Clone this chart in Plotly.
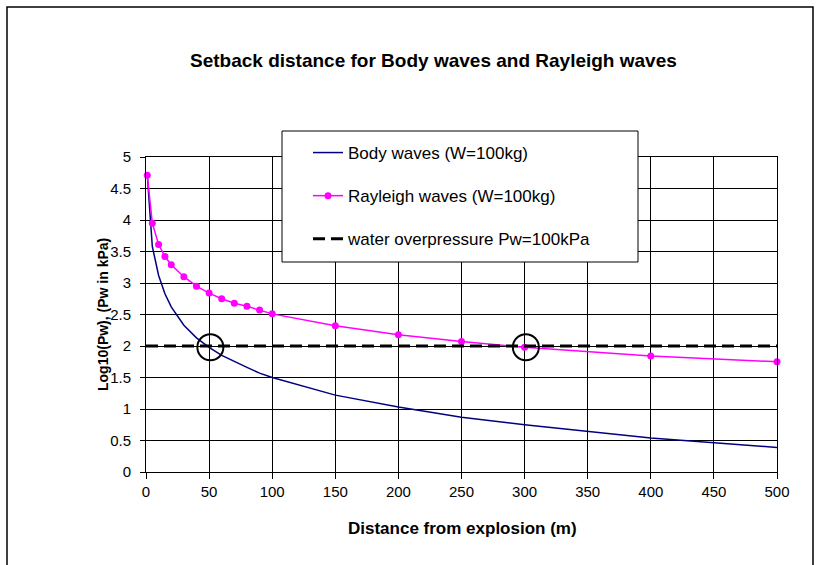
import plotly.graph_objects as go

distance_m = [1, 5, 10, 15, 20, 30, 40, 50, 60, 70, 80, 90, 100, 150, 200, 250, 300, 400, 500]
body_log_pw = [4.72, 3.58, 3.12, 2.83, 2.62, 2.33, 2.13, 1.98, 1.85, 1.75, 1.66, 1.57, 1.50,
               1.22, 1.03, 0.87, 0.75, 0.54, 0.39]
rayleigh_log_pw = [4.71, 3.95, 3.61, 3.42, 3.29, 3.10, 2.95, 2.84, 2.75, 2.68, 2.63, 2.57, 2.51,
                   2.32, 2.18, 2.07, 1.98, 1.84, 1.75]
water_x = [0, 500]
water_log_pw = [2, 2]
crossing_x = [51, 301]
crossing_y = [1.98, 1.98]

x_ticks = [0, 50, 100, 150, 200, 250, 300, 350, 400, 450, 500]
y_ticks = [0, 0.5, 1, 1.5, 2, 2.5, 3, 3.5, 4, 4.5, 5]

FONT = "Liberation Sans, Arial, sans-serif"

# pixel geometry of the plot area
L, R, T, B = 146, 777, 157, 472
W, H = 819, 565
PW, PH = R - L, B - T


def px(xp):
    return (xp - L) / PW


def py(yp):
    return (B - yp) / PH


fig = go.Figure()
fig.add_trace(go.Scatter(
    x=distance_m, y=body_log_pw, mode="lines", name="Body waves (W=100kg)",
    line=dict(color="#000080", width=1.5), legendgroup="a"))
fig.add_trace(go.Scatter(
    x=distance_m, y=rayleigh_log_pw, mode="lines+markers", name="Rayleigh waves (W=100kg)",
    line=dict(color="#FF00FF", width=1.5), marker=dict(color="#FF00FF", size=7),
    cliponaxis=False, legendgroup="b"))
fig.add_trace(go.Scatter(
    x=water_x, y=water_log_pw, mode="lines", name="water overpressure Pw=100kPa",
    line=dict(color="black", width=3, dash="12px,6px"), legendgroup="c"))
fig.add_trace(go.Scatter(
    x=crossing_x, y=crossing_y, mode="markers", showlegend=False, cliponaxis=False,
    marker=dict(symbol="circle-open", size=26, color="black", line=dict(width=2, color="black"))))

# outer chart frame
fig.add_shape(type="rect", xref="paper", yref="paper",
              x0=px(7), x1=px(813), y0=py(600), y1=py(7),
              line=dict(color="black", width=1.5), fillcolor="rgba(0,0,0,0)", layer="below")
# legend box
fig.add_shape(type="rect", xref="paper", yref="paper",
              x0=px(282), x1=px(638), y0=py(262), y1=py(131),
              line=dict(color="black", width=1), fillcolor="white", layer="above")

fig.add_annotation(text="<b>Setback distance for Body waves and Rayleigh waves</b>",
                   xref="paper", yref="paper", x=px(433), y=py(61),
                   showarrow=False, font=dict(family=FONT, size=19, color="black"),
                   xanchor="center", yanchor="middle")
fig.add_annotation(text="<b>Log10(Pw), (Pw in kPa)</b>", textangle=-90,
                   xref="paper", yref="paper", x=px(103), y=py(315),
                   showarrow=False, font=dict(family=FONT, size=14, color="black"),
                   xanchor="center", yanchor="middle")
fig.add_annotation(text="<b>Distance from explosion (m)</b>",
                   xref="paper", yref="paper", x=px(462), y=py(528),
                   showarrow=False, font=dict(family=FONT, size=17, color="black"),
                   xanchor="center", yanchor="middle")

fig.update_layout(
    width=W, height=H,
    margin=dict(l=L, r=W - R, t=T, b=H - B),
    paper_bgcolor="white", plot_bgcolor="white",
    font=dict(family=FONT, size=15, color="black"),
    showlegend=True,
    legend=dict(x=px(308), y=py(135), xanchor="left", yanchor="top",
                bgcolor="rgba(0,0,0,0)", borderwidth=0, tracegroupgap=18,
                font=dict(family=FONT, size=17, color="black")),
    xaxis=dict(range=[0, 500], tickvals=x_ticks, ticktext=[str(v) for v in x_ticks],
               showgrid=True, gridcolor="black", gridwidth=1,
               showline=True, linecolor="black", linewidth=1, mirror=True,
               ticks="outside", ticklen=6, tickcolor="black", zeroline=False,
               ticklabelstandoff=0, automargin=False),
    yaxis=dict(range=[0, 5], tickvals=y_ticks, ticktext=[f"{v:g}" for v in y_ticks],
               showgrid=True, gridcolor="black", gridwidth=1,
               showline=True, linecolor="black", linewidth=1, mirror=True,
               ticks="outside", ticklen=5, tickcolor="black", zeroline=False,
               ticklabelstandoff=6, automargin=False),
)

fig.write_html("out.html", config={"displayModeBar": False},
               post_script="document.body.style.margin='0';")
